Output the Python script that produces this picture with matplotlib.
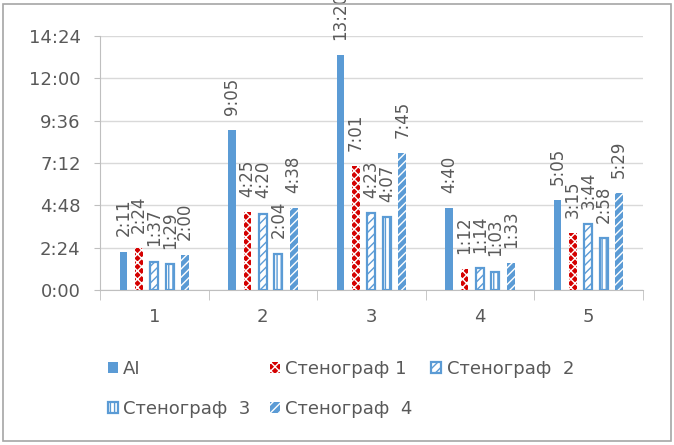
import numpy as np
import matplotlib
matplotlib.use("Agg")
import matplotlib.pyplot as plt
from matplotlib.ticker import FuncFormatter, MultipleLocator, FixedLocator
from matplotlib.patches import Rectangle

# durations per recording, m:ss
groups = ["1", "2", "3", "4", "5"]
series_names = ["AI", "Стенограф 1", "Стенограф  2", "Стенограф  3", "Стенограф  4"]
ai = ["2:11", "9:05", "13:20", "4:40", "5:05"]
steno1 = ["2:24", "4:25", "7:01", "1:12", "3:15"]
steno2 = ["1:37", "4:20", "4:23", "1:14", "3:44"]
steno3 = ["1:29", "2:04", "4:07", "1:03", "2:58"]
steno4 = ["2:00", "4:38", "7:45", "1:33", "5:29"]
series = [ai, steno1, steno2, steno3, steno4]


def to_sec(s):
    m, sec = s.split(":")
    return int(m) * 60 + int(sec)


def fmt(v, pos=None):
    v = int(round(v))
    return "%d:%02d" % (v // 60, v % 60)


blue = "#5B9BD5"
red = "#D40000"
gray_txt = "#595959"
styles = [
    dict(facecolor=blue, edgecolor=blue, linewidth=0),
    dict(facecolor=red, edgecolor="white", hatch="xxxx", linewidth=0),
    dict(facecolor="white", edgecolor=blue, hatch="////", linewidth=1.6),
    dict(facecolor="white", edgecolor=blue, hatch="||||", linewidth=1.6),
    dict(facecolor=blue, edgecolor="white", hatch="////", linewidth=0),
]

plt.rcParams["font.family"] = ["DejaVu Sans"]
plt.rcParams["hatch.linewidth"] = 1.0

fig = plt.figure(figsize=(6.74, 4.45), dpi=100)
ax = fig.add_axes([0.1485, 0.348, 0.805, 0.571])

x = np.arange(len(groups))
step = 0.142
width = 0.072
handles = []
for i, (vals, st) in enumerate(zip(series, styles)):
    secs = [to_sec(v) for v in vals]
    pos = x + (i - 2) * step
    bars = ax.bar(pos, secs, width, zorder=3, **st)
    handles.append(bars)
    for xp, s, lab in zip(pos, secs, vals):
        ax.annotate(lab, (xp, s), xytext=(0, 11), textcoords="offset points",
                    rotation=90, ha="center", va="bottom", fontsize=12,
                    color=gray_txt, annotation_clip=False, zorder=4)

ax.set_xlim(-0.5, len(groups) - 0.5)
ax.set_ylim(0, 864)
ax.yaxis.set_major_locator(MultipleLocator(144))
ax.yaxis.set_major_formatter(FuncFormatter(fmt))
ax.set_xticks(x)
ax.set_xticklabels(groups)
ax.xaxis.set_minor_locator(FixedLocator(np.arange(-0.5, len(groups), 1.0)))
ax.tick_params(axis="x", which="major", length=0, pad=13, labelsize=13, labelcolor=gray_txt)
ax.tick_params(axis="x", which="minor", length=7, color="#BFBFBF", direction="out")
ax.tick_params(axis="y", length=4, color="#BFBFBF", pad=10, labelsize=13, labelcolor=gray_txt)
ax.grid(axis="y", color="#D9D9D9", linewidth=1, zorder=0)
for side in ["top", "right"]:
    ax.spines[side].set_visible(False)
for side in ["left", "bottom"]:
    ax.spines[side].set_color("#BFBFBF")

order = [0, 3, 1, 4, 2]
leg = fig.legend([handles[k] for k in order], [series_names[k] for k in order],
                 loc="upper left", bbox_to_anchor=(108 / 674, 1 - 360 / 445),
                 ncol=3, frameon=False, fontsize=13, handlelength=0.55, handleheight=0.55,
                 handletextpad=0.3, columnspacing=1.05, labelspacing=1.2,
                 borderaxespad=0, borderpad=0)
for t in leg.get_texts():
    t.set_color(gray_txt)

fig.patches.append(Rectangle((0.005, 0.008), 0.99, 0.984, transform=fig.transFigure,
                             fill=False, edgecolor="#A6A6A6", linewidth=1.2))

fig.savefig("out.png", dpi=100)
